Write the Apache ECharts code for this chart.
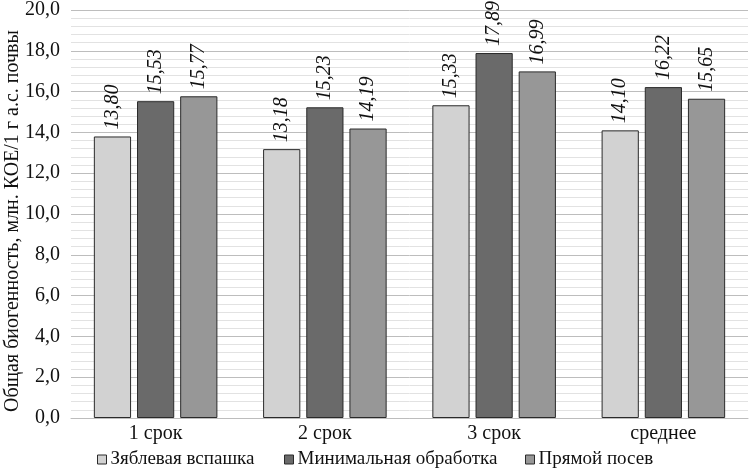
<!DOCTYPE html>
<html><head><meta charset="utf-8">
<script src="https://cdn.jsdelivr.net/npm/echarts@6/dist/echarts.min.js"></script>
<style>html,body{margin:0;padding:0;background:#fff}#c{width:750px;height:470px}</style>
</head><body><div id="c"></div>
<script>
const categories = ['1 срок', '2 срок', '3 срок', 'среднее'];
const seriesNames = ['Зяблевая вспашка', 'Минимальная обработка', 'Прямой посев'];
const zyablevaya = [13.80, 13.18, 15.33, 14.10];
const minimalnaya = [15.53, 15.23, 17.89, 16.22];
const pryamoy = [15.77, 14.19, 16.99, 15.65];
const colors = ['#d2d2d2', '#6a6a6a', '#979797'];
const yAxisTitle = 'Общая биогенность, млн. КОЕ/1 г а.с. почвы';

const font = '"Liberation Serif", "DejaVu Serif", serif';
const fmt = v => v.toFixed(2).replace('.', ',');
function mk(name, data, color) {
  return {
    name, type: 'bar', data,
    barGap: '16%', barCategoryGap: '27%',
    itemStyle: { color, borderColor: '#2a2a2a', borderWidth: 1 },
    label: {
      show: true, position: 'top', rotate: 90, align: 'left', verticalAlign: 'middle',
      distance: 7, fontFamily: font, fontStyle: 'italic', fontSize: 20, color: '#111',
      formatter: p => fmt(p.value)
    }
  };
}
const legendLefts = [97, 284, 525];
const legends = seriesNames.map((n, i) => ({
  bottom: 1, left: legendLefts[i], itemWidth: 9, itemHeight: 9,
  icon: 'rect', padding: 0,
  textStyle: { fontFamily: font, fontSize: 19, color: '#111', padding: [0, 0, 0, -1] },
  data: [{ name: n, itemStyle: { borderColor: '#2a2a2a', borderWidth: 1 } }]
}));
const chart = echarts.init(document.getElementById('c'), null, { renderer: 'canvas' });
chart.setOption({
  animation: false,
  textStyle: { fontFamily: font },
  grid: { left: 71, right: 2, top: 10, bottom: 52, outerBoundsMode: 'none', containLabel: false },
  legend: legends,
  xAxis: {
    type: 'category', data: categories,
    axisLine: { show: true, lineStyle: { color: '#bdbdbd' } },
    axisTick: { show: false },
    axisLabel: { fontFamily: font, fontSize: 20, color: '#111', margin: 6 }
  },
  yAxis: {
    type: 'value', min: 0, max: 20, interval: 2,
    name: yAxisTitle, nameLocation: 'middle', nameGap: 48, nameMoveOverlap: false,
    nameTextStyle: { fontFamily: font, fontSize: 20, color: '#111', padding: [0, 14, 0, 0] },
    axisLine: { show: false }, axisTick: { show: false },
    axisLabel: { fontFamily: font, fontSize: 20, color: '#111', margin: 11, formatter: v => v.toFixed(1).replace('.', ',') },
    splitLine: { lineStyle: { color: '#bdbdbd', width: 1 } },
    minorTick: { show: false, splitNumber: 5 },
    minorSplitLine: { show: true, lineStyle: { color: '#e2e2e2', width: 1 } }
  },
  series: [mk(seriesNames[0], zyablevaya, colors[0]), mk(seriesNames[1], minimalnaya, colors[1]), mk(seriesNames[2], pryamoy, colors[2])]
});
</script></body></html>
